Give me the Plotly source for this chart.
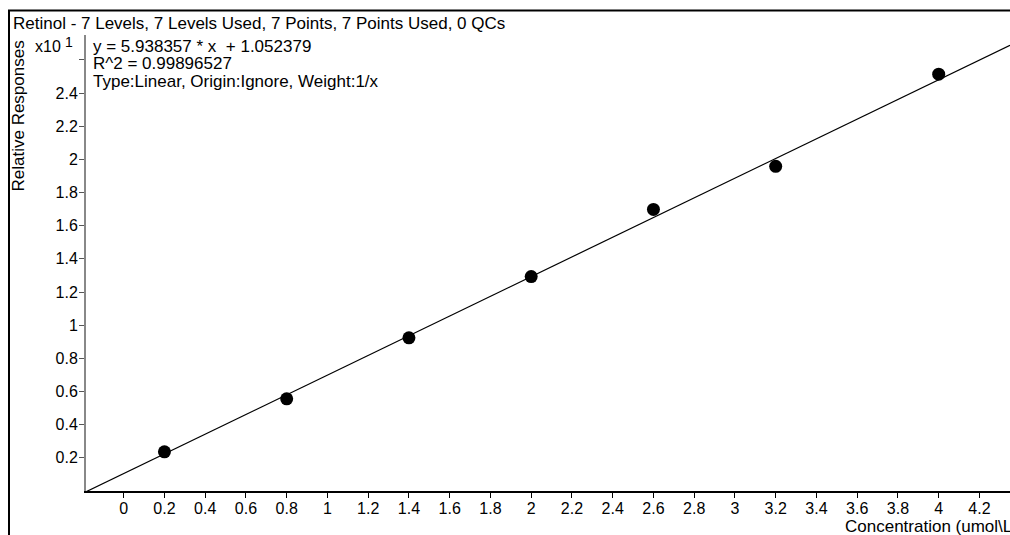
import plotly.graph_objects as go

# Calibration data for Retinol (relative responses, raw units)
concentration = [0.2, 0.8, 1.4, 2.0, 2.6, 3.2, 4.0]
response = [2.36, 5.56, 9.24, 12.93, 16.98, 19.58, 25.14]

# Linear fit reported by the quantitation software
slope = 5.938357
intercept = 1.052379
r_squared = 0.99896527

title_text = "Retinol - 7 Levels, 7 Levels Used, 7 Points, 7 Points Used, 0 QCs"
fit_lines = [
    "y = 5.938357 * x  + 1.052379",
    "R^2 = 0.99896527",
    "Type:Linear, Origin:Ignore, Weight:1/x",
]

x_tick_values = [0, 0.2, 0.4, 0.6, 0.8, 1, 1.2, 1.4, 1.6, 1.8, 2, 2.2, 2.4,
                 2.6, 2.8, 3, 3.2, 3.4, 3.6, 3.8, 4, 4.2]
x_tick_labels = ["0", "0.2", "0.4", "0.6", "0.8", "1", "1.2", "1.4", "1.6",
                 "1.8", "2", "2.2", "2.4", "2.6", "2.8", "3", "3.2", "3.4",
                 "3.6", "3.8", "4", "4.2"]
# y ticks in raw units; labels are shown scaled by x10^1
y_tick_values = [2, 4, 6, 8, 10, 12, 14, 16, 18, 20, 22, 24, 26]
y_tick_labels = ["0.2", "0.4", "0.6", "0.8", "1", "1.2", "1.4", "1.6",
                 "1.8", "2", "2.2", "2.4", ""]

x_range = [-0.185, 4.35]
y_range = [0, 27.5]

# Page geometry (pixels)
W, H = 1010, 535
L, R, T, B = 86, 1010, 35, 491
FONT = "Liberation Sans, Arial, sans-serif"
FS = 17
FS_TICK = 16


def px(x):
    return (x - L) / (R - L)


def py(y):
    return (B - y) / (B - T)


fit_x = list(x_range)
fit_y = [slope * v + intercept for v in fit_x]

fig = go.Figure()
fig.add_trace(go.Scatter(
    x=fit_x, y=fit_y, mode="lines",
    line=dict(color="black", width=1.2),
    hoverinfo="skip", showlegend=False,
))
fig.add_trace(go.Scatter(
    x=concentration, y=response, mode="markers",
    marker=dict(color="black", size=13, line=dict(width=0)),
    showlegend=False, cliponaxis=False,
))

annotations = [
    dict(text=title_text, x=px(11), y=py(24), xanchor="left", yanchor="middle",
         font=dict(size=FS)),
    dict(text="x10", x=px(33), y=py(47), xanchor="left",
         yanchor="middle", font=dict(size=FS_TICK)),
    dict(text="1", x=px(63), y=py(42), xanchor="left",
         yanchor="middle", font=dict(size=14)),
    dict(text="Relative Responses", x=px(18), y=py(39), xanchor="center",
         yanchor="top", textangle=-90, font=dict(size=FS)),
    dict(text="Concentration (umol\\L)", x=px(843), y=py(526), xanchor="left",
         yanchor="middle", font=dict(size=FS)),
]
for i, line in enumerate(fit_lines):
    annotations.append(dict(text=line, x=px(91), y=py(46 + 17.5 * i),
                            xanchor="left", yanchor="middle",
                            font=dict(size=FS)))
for a in annotations:
    a.update(xref="paper", yref="paper", showarrow=False)

fig.update_layout(
    width=W, height=H,
    margin=dict(l=L, r=W - R, t=T, b=H - B, pad=0),
    paper_bgcolor="white", plot_bgcolor="white",
    font=dict(family=FONT, size=FS, color="black"),
    annotations=annotations,
    shapes=[
        # outer frame (left and top edges visible)
        dict(type="rect", xref="paper", yref="paper",
             x0=px(9), x1=px(1030), y0=py(560), y1=py(10.5),
             line=dict(color="black", width=2), layer="above"),
    ],
)
fig.update_xaxes(
    range=x_range, tickmode="array", tickvals=x_tick_values,
    ticktext=x_tick_labels, ticks="outside", ticklen=5, tickwidth=1,
    tickcolor="black", showline=True, linecolor="black", linewidth=2,
    showgrid=False, zeroline=False, tickfont=dict(size=FS_TICK),
    ticklabelstandoff=-3,
)
fig.update_yaxes(
    range=y_range, tickmode="array", tickvals=y_tick_values,
    ticktext=y_tick_labels, ticks="outside", ticklen=5, tickwidth=1,
    tickcolor="#555555", showline=True, linecolor="#888888", linewidth=2,
    showgrid=False, zeroline=False, tickfont=dict(size=FS_TICK),
    ticklabelstandoff=-2,
)

fig.write_html("out.html")
